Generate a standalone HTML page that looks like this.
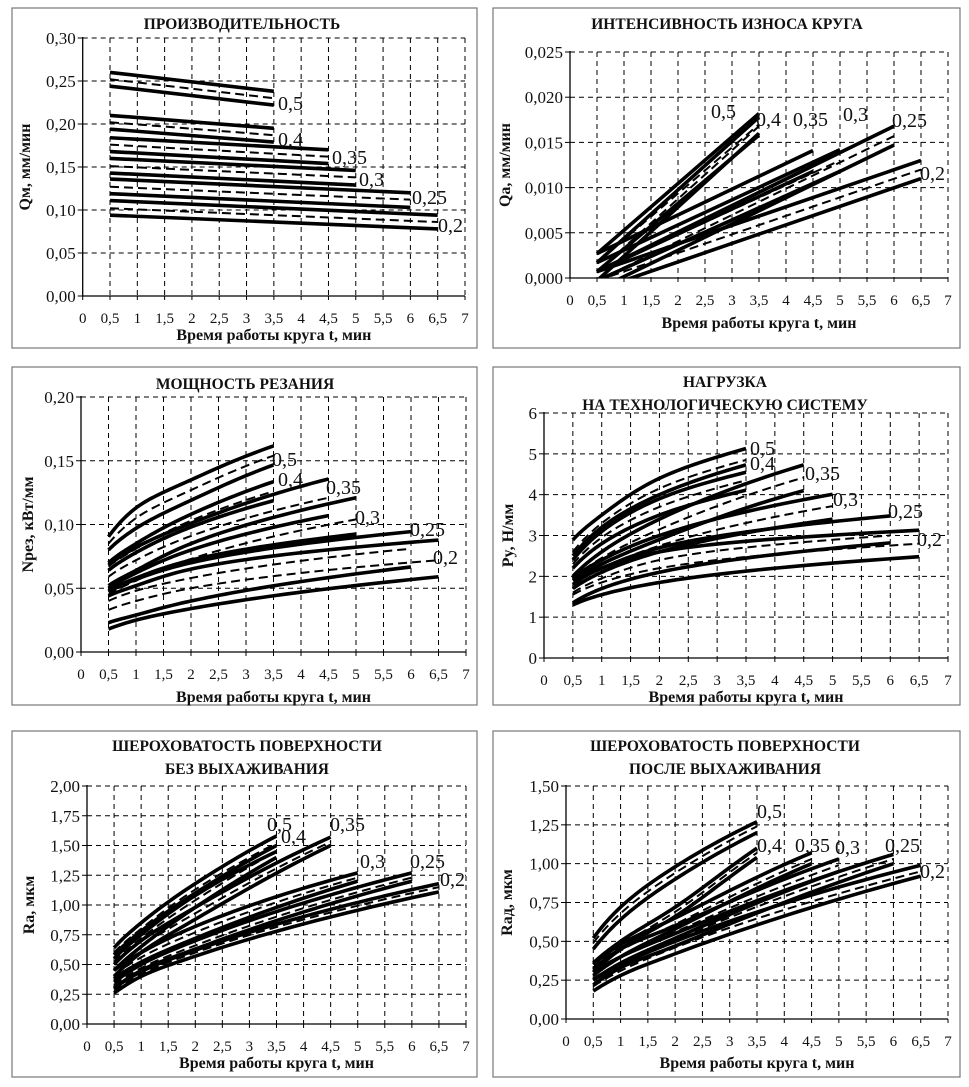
<!DOCTYPE html>
<html><head><meta charset="utf-8">
<style>
html,body{margin:0;padding:0;background:#fff;}
svg{display:block;font-family:"Liberation Serif",serif;}
</style></head>
<body>
<svg id="root" width="969" height="1087" viewBox="0 0 969 1087"></svg>
<script>
const FEEDS = ['0,5','0,4','0,35','0,3','0,25','0,2'];
const END_T = [3.5,3.5,4.5,5,6,6.5];
const X_TICKS = [0,0.5,1,1.5,2,2.5,3,3.5,4,4.5,5,5.5,6,6.5,7];
const X_TICK_LABELS = ['0','0,5','1','1,5','2','2,5','3','3,5','4','4,5','5','5,5','6','6,5','7'];

// Chart 1: productivity (linear, t = 0.5 and end)
const c1_upper = [[0.260,0.238],[0.210,0.195],[0.184,0.170],[0.160,0.146],[0.136,0.120],[0.111,0.094]];
const c1_mid   = [[0.252,0.230],[0.202,0.187],[0.176,0.162],[0.151,0.138],[0.127,0.112],[0.102,0.086]];
const c1_lower = [[0.244,0.222],[0.194,0.179],[0.168,0.154],[0.143,0.129],[0.119,0.103],[0.094,0.078]];
const c1_yticks = [0,0.05,0.10,0.15,0.20,0.25,0.30];
const c1_ylabels = ['0,00','0,05','0,10','0,15','0,20','0,25','0,30'];

// Chart 2: wheel wear intensity
const c2_upper = [[0.0027,0.0182],[0.0017,0.0178],[0.0027,0.0141],[0.0017,0.0142],[0.0007,0.0168],[0.0007,0.0130]];
const c2_mid   = [[0.0017,0.0170],[0.0007,0.0168],[0.0017,0.0128],[0.0007,0.0130],[-0.0003,0.0157],[-0.0003,0.0120]];
const c2_lower = [[0.0007,0.0158],[-0.0003,0.0160],[0.0007,0.0118],[-0.0003,0.0118],[-0.0013,0.0147],[-0.0013,0.0110]];
const c2_yticks = [0,0.005,0.010,0.015,0.020,0.025];
const c2_ylabels = ['0,000','0,005','0,010','0,015','0,020','0,025'];

// Chart 3: cutting power (t = 0.5, 1, 2, end)
const c3_upper = [[0.0905,0.113,0.135,0.1616],[0.070,0.085,0.108,0.1336],[0.068,0.082,0.101,0.1357],[0.052,0.064,0.085,0.121],[0.047,0.057,0.070,0.0944],[0.044,0.052,0.065,0.0878]];
const c3_mid   = [[0.085,0.105,0.127,0.154],[0.067,0.081,0.103,0.126],[0.059,0.072,0.091,0.121],[0.045,0.056,0.073,0.104],[0.040,0.048,0.058,0.081],[0.033,0.040,0.050,0.072]];
const c3_lower = [[0.080,0.097,0.119,0.1467],[0.064,0.078,0.098,0.1187],[0.050,0.062,0.080,0.107],[0.048,0.058,0.072,0.0925],[0.023,0.029,0.040,0.0667],[0.018,0.025,0.034,0.059]];
const c3_yticks = [0,0.05,0.10,0.15,0.20];
const c3_ylabels = ['0,00','0,05','0,10','0,15','0,20'];

// Chart 4: load
const c4_upper = [[2.89,3.5,4.4,5.13],[2.4,3.1,3.9,4.55],[2.0,2.6,3.4,4.73],[1.95,2.4,3.0,4.01],[1.9,2.2,2.7,3.48],[1.8,2.2,2.6,3.13]];
const c4_mid   = [[2.6,3.3,4.15,4.85],[2.3,2.95,3.7,4.35],[1.95,2.45,3.15,4.42],[1.8,2.2,2.75,3.72],[1.6,1.95,2.4,3.0],[1.55,1.85,2.2,2.8]];
const c4_lower = [[2.5,3.2,4.0,4.73],[2.2,2.8,3.5,4.11],[1.9,2.3,2.9,4.1],[1.7,2.1,2.6,3.4],[1.35,1.7,2.1,2.82],[1.3,1.55,1.85,2.48]];
const c4_yticks = [0,1,2,3,4,5,6];
const c4_ylabels = ['0','1','2','3','4','5','6'];

// Chart 5: roughness without sparkout
const c5_upper = [[0.64,0.85,1.18,1.58],[0.58,0.78,1.10,1.50],[0.50,0.70,0.98,1.57],[0.45,0.60,0.82,1.27],[0.35,0.50,0.70,1.27],[0.30,0.44,0.62,1.18]];
const c5_mid   = [[0.60,0.80,1.13,1.52],[0.52,0.72,1.04,1.45],[0.45,0.65,0.93,1.53],[0.41,0.56,0.77,1.23],[0.33,0.47,0.66,1.23],[0.28,0.42,0.60,1.15]];
const c5_lower = [[0.55,0.75,1.08,1.45],[0.45,0.65,0.98,1.40],[0.40,0.60,0.88,1.50],[0.38,0.52,0.72,1.20],[0.30,0.45,0.63,1.20],[0.26,0.40,0.57,1.11]];
const c5_yticks = [0,0.25,0.5,0.75,1,1.25,1.5,1.75,2];
const c5_ylabels = ['0,00','0,25','0,50','0,75','1,00','1,25','1,50','1,75','2,00'];

// Chart 6: roughness after sparkout
const c6_upper = [[0.52,0.72,0.98,1.27],[0.36,0.50,0.72,1.10],[0.35,0.48,0.65,1.07],[0.32,0.45,0.60,1.03],[0.30,0.40,0.55,1.06],[0.25,0.35,0.50,0.99]];
const c6_mid   = [[0.49,0.68,0.94,1.24],[0.33,0.47,0.69,1.07],[0.31,0.44,0.61,1.03],[0.28,0.40,0.56,0.99],[0.26,0.36,0.51,1.03],[0.21,0.31,0.46,0.95]];
const c6_lower = [[0.45,0.64,0.90,1.20],[0.30,0.45,0.66,1.04],[0.28,0.40,0.58,1.00],[0.25,0.36,0.52,0.95],[0.22,0.33,0.47,1.00],[0.18,0.28,0.42,0.92]];
const c6_yticks = [0,0.25,0.5,0.75,1,1.25,1.5];
const c6_ylabels = ['0,00','0,25','0,50','0,75','1,00','1,25','1,50'];

const NS = 'http://www.w3.org/2000/svg';
const root = document.getElementById('root');
function mk(tag, attrs, parent){
  const e = document.createElementNS(NS, tag);
  for (const k in attrs) e.setAttribute(k, attrs[k]);
  (parent||root).appendChild(e);
  return e;
}
// smooth rendering: Catmull-Rom in log-log space, sampled densely
function curvePath(times, vals, X, Y){
  if (times.length===2) return 'M'+X(times[0])+','+Y(vals[0])+'L'+X(times[1])+','+Y(vals[1]);
  const u = times.map(Math.log), w = vals.map(Math.log);
  const n = u.length;
  const slope = [];
  for (let i=0;i<n;i++){
    if (i===0) slope.push((w[1]-w[0])/(u[1]-u[0]));
    else if (i===n-1) slope.push((w[n-1]-w[n-2])/(u[n-1]-u[n-2]));
    else slope.push(((w[i]-w[i-1])/(u[i]-u[i-1]) + (w[i+1]-w[i])/(u[i+1]-u[i]))/2);
  }
  let d='';
  const N=60;
  for (let s=0;s<=N;s++){
    const uu = u[0]+(u[n-1]-u[0])*s/N;
    let i=0; while (i<n-2 && uu>u[i+1]) i++;
    const h=u[i+1]-u[i], tt=(uu-u[i])/h;
    const h00=2*tt*tt*tt-3*tt*tt+1, h10=tt*tt*tt-2*tt*tt+tt, h01=-2*tt*tt*tt+3*tt*tt, h11=tt*tt*tt-tt*tt;
    const ww = h00*w[i]+h10*h*slope[i]+h01*w[i+1]+h11*h*slope[i+1];
    d += (s===0?'M':'L')+X(Math.exp(uu)).toFixed(2)+','+Y(Math.exp(ww)).toFixed(2);
  }
  return d;
}

function drawChart(cfg, idx){
  const g = mk('g', {});
  
  
  const box = mk('rect', {x:cfg.box[0], y:cfg.box[1], width:cfg.box[2]-cfg.box[0], height:cfg.box[3]-cfg.box[1], fill:'#fff', stroke:'#777', 'stroke-width':1.2}, g);
  
  
  const x0=cfg.px[0], x7=cfg.px[1], yT=cfg.py[0], yB=cfg.py[1];
  const ymax = cfg.yticks[cfg.yticks.length-1];
  const X = t => x0 + (x7-x0)*t/7;
  const Y = v => yB - (yB-yT)*v/ymax;
  X_TICKS.forEach((t,i)=>{
    if (t===0) return;
    const l = mk('line', {x1:X(t), x2:X(t), y1:yT, y2:yB, stroke:'#000', 'stroke-width':1, 'stroke-dasharray':'5,4'}, g);
    
    
  });
  cfg.yticks.forEach((v,i)=>{
    if (v===0) return;
    const l = mk('line', {x1:x0, x2:x7, y1:Y(v), y2:Y(v), stroke:'#000', 'stroke-width':1, 'stroke-dasharray':'5,4'}, g);
    
    
  });
  const ax = mk('path', {d:'M'+x0+','+(yT-1)+'V'+yB+'H'+x7, fill:'none', stroke:'#000', 'stroke-width':1.3}, g);
  
  
  cfg.yticks.forEach((v,i)=>{
    mk('line', {x1:x0-5, x2:x0, y1:Y(v), y2:Y(v), stroke:'#000'}, g);
    const t = mk('text', {x:x0-7, y:Y(v)+6, 'text-anchor':'end', 'font-size':17, fill:'#111'}, g);
    t.textContent = cfg.ylabels[i];
    
    
  });
  X_TICKS.forEach((tv,i)=>{
    mk('line', {x1:X(tv), x2:X(tv), y1:yB, y2:yB+4, stroke:'#000'}, g);
    const t = mk('text', {x:X(tv), y:yB+27, 'text-anchor':'middle', 'font-size':15, fill:'#111'}, g);
    t.textContent = X_TICK_LABELS[i];
    
    
  });
  cfg.title.forEach((line,i)=>{
    const t = mk('text', {x:cfg.titlePos[0], y:cfg.titlePos[1]+i*23, 'text-anchor':'middle', 'font-size':15.5, 'font-weight':'bold', fill:'#111'}, g);
    t.textContent = line;
    
    
  });
  const xt = mk('text', {x:(x0+x7)/2, y:cfg.xTitleY, 'text-anchor':'middle', 'font-size':16, 'font-weight':'bold', fill:'#111'}, g);
  xt.textContent = 'Время работы круга t, мин';
  
  
  const ycy = (yT+yB)/2;
  const yt = mk('text', {x:0, y:0, transform:'translate('+cfg.yTitleX+','+ycy+') rotate(-90)', 'text-anchor':'middle', 'font-size':16, 'font-weight':'bold', fill:'#111'}, g);
  yt.textContent = cfg.yTitle;
  
  
  const cid = 'clip'+idx;
  const cp = mk('clipPath', {id:cid}, g);
  mk('rect', {x:x0, y:yT-10, width:x7-x0+10, height:yB-yT+10}, cp);
  const sg = mk('g', {'clip-path':'url(#'+cid+')'}, g);
  FEEDS.forEach((f,k)=>{
    const E = END_T[k];
    const times = cfg.upper[k].length===2 ? [0.5,E] : [0.5,1,2,E];
    [['upper',cfg.upper],['mid',cfg.mid],['lower',cfg.lower]].forEach(([nm,arr])=>{
      const dashed = nm==='mid';
      const p = mk('path', {d:curvePath(times, arr[k], X, Y), fill:'none', stroke:'#000', 'stroke-width':dashed?2:3.6, 'stroke-dasharray':dashed?'9,5':'none', 'stroke-linejoin':'round'}, sg);
      
      
    });
    const lbl = mk('text', {x:cfg.labels[k][0], y:cfg.labels[k][1], 'font-size':20, fill:'#111'}, g);
    lbl.textContent = f;
    
    
  });
}

const charts = [
  {name:'productivity-chart', box:[12,8,477,348], px:[82.7,465], py:[38,296], yticks:c1_yticks, ylabels:c1_ylabels,
   upper:c1_upper, mid:c1_mid, lower:c1_lower, title:['ПРОИЗВОДИТЕЛЬНОСТЬ'], titlePos:[242,29], xTitleY:340, yTitleX:30, yTitle:'Qм, мм/мин',
   labels:[[278,110],[278,146],[332,164],[359,186],[412,204],[438,232]]},
  {name:'wheel-wear-chart', box:[493,8,960,348], px:[570,948], py:[52,278], yticks:c2_yticks, ylabels:c2_ylabels,
   upper:c2_upper, mid:c2_mid, lower:c2_lower, title:['ИНТЕНСИВНОСТЬ ИЗНОСА КРУГА'], titlePos:[727,29], xTitleY:328, yTitleX:510, yTitle:'Qa, мм/мин',
   labels:[[711,118],[756,126],[793,126],[843,121],[892,127],[920,180]]},
  {name:'cutting-power-chart', box:[12,367,477,705], px:[81,466], py:[397,652], yticks:c3_yticks, ylabels:c3_ylabels,
   upper:c3_upper, mid:c3_mid, lower:c3_lower, title:['МОЩНОСТЬ РЕЗАНИЯ'], titlePos:[245,389], xTitleY:702, yTitleX:33, yTitle:'Nрез, кВт/мм',
   labels:[[272,466],[278,486],[326,494],[355,524],[410,536],[433,564]]},
  {name:'load-chart', box:[493,367,960,705], px:[544,948], py:[413,658], yticks:c4_yticks, ylabels:c4_ylabels,
   upper:c4_upper, mid:c4_mid, lower:c4_lower, title:['НАГРУЗКА','НА ТЕХНОЛОГИЧЕСКУЮ СИСТЕМУ'], titlePos:[725,387], xTitleY:702, yTitleX:513, yTitle:'Py, Н/мм',
   labels:[[750,455],[750,470],[805,480],[833,506],[888,518],[917,546]]},
  {name:'roughness-no-sparkout-chart', box:[12,731,477,1077], px:[87,466], py:[786,1024], yticks:c5_yticks, ylabels:c5_ylabels,
   upper:c5_upper, mid:c5_mid, lower:c5_lower, title:['ШЕРОХОВАТОСТЬ ПОВЕРХНОСТИ','БЕЗ ВЫХАЖИВАНИЯ'], titlePos:[247,751], xTitleY:1068, yTitleX:34, yTitle:'Ra, мкм',
   labels:[[267,831],[281,843],[330,831],[360,868],[410,868],[440,886]]},
  {name:'roughness-after-sparkout-chart', box:[493,731,960,1077], px:[566,948], py:[786,1019], yticks:c6_yticks, ylabels:c6_ylabels,
   upper:c6_upper, mid:c6_mid, lower:c6_lower, title:['ШЕРОХОВАТОСТЬ ПОВЕРХНОСТИ','ПОСЛЕ ВЫХАЖИВАНИЯ'], titlePos:[725,751], xTitleY:1068, yTitleX:512, yTitle:'Raд, мкм',
   labels:[[757,818],[757,852],[795,852],[835,854],[885,852],[920,878]]}
];
charts.forEach((c,i)=>drawChart(c,i));
</script>
</body></html>
